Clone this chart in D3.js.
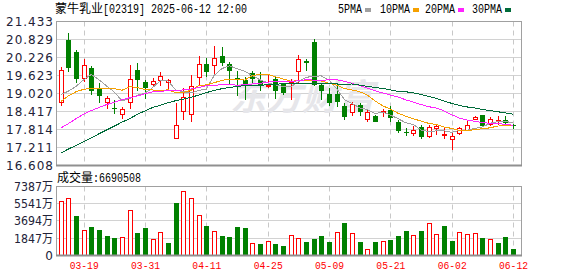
<!DOCTYPE html>
<html>
<head>
<meta charset="utf-8">
<script src="https://cdn.jsdelivr.net/npm/d3@7"></script>
<style>
  body { margin: 0; background: #fff; }
  svg { display: block; }
</style>
</head>
<body>
<div id="chart"></div>
<script>
// Trading days shown (HK market, 2025)
const dates = ["03-14","03-17","03-18","03-19","03-20","03-21","03-24","03-25","03-26","03-27","03-28","03-31",
  "04-01","04-02","04-03","04-07","04-08","04-09","04-10","04-11","04-14","04-15","04-16","04-17",
  "04-22","04-23","04-24","04-25","04-28","04-29","04-30","05-02","05-06","05-07","05-08","05-09",
  "05-12","05-13","05-14","05-15","05-16","05-19","05-20","05-21","05-22","05-23","05-26","05-27",
  "05-28","05-29","05-30","06-02","06-03","06-04","06-05","06-06","06-09","06-10","06-11","06-12"];

const open  = [18.73,20.82,20.42,19.54,19.87,19.22,18.72,18.54,18.33,18.73,19.81,19.39,
  19.33,19.46,19.39,17.53,18.42,18.33,19.59,20.02,19.99,20.28,20.00,19.54,
  19.48,19.70,19.48,19.27,19.50,19.33,19.39,19.76,20.12,20.73,19.29,19.01,
  19.01,18.61,18.40,18.63,18.18,18.27,18.42,18.47,18.08,17.74,17.69,17.89,
  17.58,17.88,17.655,17.49,17.69,17.80,18.18,18.30,18.01,18.105,18.12,17.96];
const high  = [19.90,21.04,20.48,20.17,19.93,19.37,18.92,18.81,18.56,19.98,20.03,19.48,
  19.54,19.73,19.50,18.70,19.20,19.64,20.29,20.21,20.60,20.57,20.08,19.79,
  19.59,19.78,19.73,19.68,19.57,19.37,19.50,20.32,20.18,20.84,19.37,19.20,
  19.35,18.70,18.72,18.70,18.47,18.31,18.50,18.59,18.14,17.86,17.92,17.96,
  17.96,17.97,17.88,17.69,17.89,18.13,18.27,18.31,18.23,18.25,18.25,18.01];
const low   = [18.59,19.74,19.37,19.40,18.98,18.70,18.50,18.33,18.16,18.50,19.12,18.83,
  19.26,19.26,19.09,17.53,18.12,18.08,19.30,19.59,19.65,19.93,19.35,18.94,
  18.81,19.35,19.11,19.20,18.84,18.98,18.81,19.37,19.79,19.26,18.81,18.61,
  18.56,18.14,18.25,18.25,18.08,18.05,18.23,18.08,17.69,17.58,17.58,17.49,
  17.53,17.64,17.50,17.13,17.64,17.75,18.13,17.89,17.94,17.96,17.94,17.83];
const close = [19.81,19.89,19.52,19.97,19.09,18.92,18.865,18.485,18.49,19.50,19.46,19.22,
  19.43,19.61,19.48,17.96,18.89,19.26,20.00,19.74,20.21,20.03,19.79,19.50,
  19.30,19.50,19.30,19.31,19.12,19.05,19.42,20.17,20.04,19.31,19.12,18.71,
  18.72,18.22,18.68,18.39,18.40,18.08,18.45,18.19,17.77,17.69,17.80,17.56,
  17.89,17.915,17.665,17.58,17.85,17.96,18.22,17.915,18.16,18.14,18.03,17.92];

// Volume in 万 (10k shares)
const volume = [5888,6177,4282,2783,2998,2783,2141,1927,2034,4818,2462,2891,
  1713,2569,1285,5674,6852,6209,4389,3105,2676,2141,2034,2998,
  2891,1285,1178,1499,1178,964,2248,1820,1392,1713,2141,1392,
  2569,3426,2462,1392,749,1392,1499,1606,2141,2676,2248,2676,
  3426,2355,3105,1499,2569,2355,2462,1820,1713,1285,2034,669];
const lastVolume = 6690508;

// Moving averages
const ma5  = [18.98,19.10,19.26,19.48,19.66,19.48,19.27,19.07,18.77,18.85,18.96,19.03,
  19.22,19.45,19.44,19.14,19.08,19.04,19.12,19.17,19.62,19.85,19.95,19.85,
  19.77,19.62,19.48,19.38,19.31,19.26,19.24,19.42,19.56,19.60,19.61,19.47,
  19.18,18.82,18.69,18.54,18.48,18.35,18.40,18.30,18.18,18.04,17.98,17.80,
  17.74,17.77,17.77,17.72,17.78,17.79,17.85,17.90,18.02,18.08,18.09,18.03];
const ma10 = [18.75,18.94,19.08,19.16,19.20,19.20,19.20,19.18,19.13,19.25,19.22,19.15,
  19.14,19.11,19.15,19.05,19.05,19.13,19.28,19.31,19.38,19.46,19.50,19.49,
  19.47,19.62,19.66,19.67,19.58,19.51,19.43,19.45,19.47,19.45,19.44,19.36,
  19.30,19.19,19.14,19.08,18.97,18.77,18.61,18.50,18.36,18.26,18.17,18.10,
  18.02,17.98,17.90,17.85,17.79,17.77,17.81,17.84,17.87,17.93,17.94,17.94];
const ma20 = [17.86,18.01,18.18,18.33,18.45,18.55,18.65,18.73,18.81,18.88,18.94,19.01,
  19.08,19.10,19.11,19.12,19.14,19.17,19.22,19.28,19.30,19.31,19.32,19.30,
  19.31,19.34,19.36,19.40,19.43,19.41,19.41,19.45,19.48,19.47,19.45,19.49,
  19.48,19.43,19.36,19.29,19.20,19.11,19.04,18.97,18.90,18.81,18.73,18.65,
  18.58,18.53,18.44,18.31,18.20,18.13,18.09,18.05,18.02,18.02,17.98,17.96];
const ma30 = [17.02,17.16,17.28,17.41,17.54,17.67,17.80,17.93,18.06,18.18,18.32,18.44,
  18.55,18.63,18.71,18.78,18.83,18.89,18.97,19.05,19.12,19.18,19.22,19.26,
  19.28,19.29,19.30,19.31,19.32,19.36,19.34,19.35,19.37,19.35,19.35,19.34,
  19.34,19.33,19.34,19.30,19.26,19.22,19.19,19.14,19.09,19.08,19.04,18.99,
  18.92,18.86,18.77,18.69,18.62,18.57,18.54,18.48,18.45,18.41,18.37,18.33];

const priceTicks = [21.433,20.829,20.226,19.623,19.020,18.417,17.814,17.211,16.608];
const volTicks = [0,1847,3694,5541,7387];
const tickDates = ["03-19","03-31","04-11","04-25","05-09","05-21","06-02","06-12"];

const maNames = ["5PMA","10PMA","20PMA","30PMA"];
const maColors = ["#a0a0a0","#f5a000","#ff22ff","#006b3a"];
const UP = "#ff0000", DOWN = "#008000";

const W = 578, H = 276;
const left = 56, right = 522;
const pTop = 21.5, pBot = 165.5, vTop = 186.5, vBot = 255.5;

const svg = d3.select("#chart").append("svg")
    .attr("width", W).attr("height", H)
    .style("background", "#fff");

const x = d3.scalePoint().domain(dates).range([60.7, 513]);
const y = d3.scaleLinear().domain([16.608, 21.433]).range([pBot, pTop]);
const yv = d3.scaleLinear().domain([0, 7387]).range([vBot, vTop]);
const px = d => Math.round(x(d));
const crisp = v => Math.round(v - 0.5) + 0.5;

// Horizontal grid
svg.append("g").selectAll("line").data(priceTicks.slice(1, -1)).join("line")
    .attr("x1", left).attr("x2", right)
    .attr("y1", d => crisp(y(d))).attr("y2", d => crisp(y(d)))
    .attr("stroke", "#d2d2d2");
svg.append("g").selectAll("line").data(volTicks.slice(1, -1)).join("line")
    .attr("x1", left).attr("x2", right)
    .attr("y1", d => crisp(yv(d))).attr("y2", d => crisp(yv(d)))
    .attr("stroke", "#d2d2d2");

// Vertical dashed grid
[[pTop, pBot], [vTop, vBot]].forEach(([a, b]) => {
    svg.append("g").selectAll("line").data(tickDates).join("line")
        .attr("x1", d => px(d) + 0.5).attr("x2", d => px(d) + 0.5)
        .attr("y1", a).attr("y2", b)
        .attr("stroke", "#c8c8c8")
        .attr("stroke-dasharray", "5,4");
});

// Watermark
svg.append("text")
    .attr("x", 230).attr("y", 110)
    .attr("font-family", "'Noto Sans CJK SC'")
    .attr("font-size", 36).attr("font-weight", "bold").attr("font-style", "italic")
    .attr("fill", "#e6e6ea")
    .text("东方财富");

// Candles
const bars = dates.map((d, i) => ({ d, o: open[i], h: high[i], l: low[i], c: close[i], v: volume[i],
    up: close[i] >= open[i], vUp: i === 0 || close[i] >= close[i - 1] }));

const candle = svg.append("g").selectAll("g").data(bars).join("g");
candle.append("line")
    .attr("x1", d => px(d.d) + 0.5).attr("x2", d => px(d.d) + 0.5)
    .attr("y1", d => Math.round(y(d.h))).attr("y2", d => Math.round(y(d.l)))
    .attr("stroke", d => d.up ? UP : DOWN);
candle.append("rect")
    .attr("x", d => d.up ? px(d.d) - 1.5 : px(d.d) - 2)
    .attr("width", d => d.up ? 4 : 5)
    .attr("y", d => Math.round(y(Math.max(d.o, d.c))) + (d.up ? 0.5 : 0))
    .attr("height", d => Math.max(1, Math.round(y(Math.min(d.o, d.c))) - Math.round(y(Math.max(d.o, d.c)))))
    .attr("fill", d => d.up ? "#fff" : DOWN)
    .attr("stroke", d => d.up ? UP : "none");

// Moving average lines
[ma5, ma10, ma20, ma30].forEach((ma, k) => {
    const line = d3.line().x((d, i) => x(dates[i])).y(d => y(d));
    svg.append("path")
        .datum(ma)
        .attr("fill", "none")
        .attr("stroke", maColors[k])
        .attr("stroke-width", 1)
        .attr("shape-rendering", "crispEdges")
        .attr("d", line);
});

// Volume bars
svg.append("g").selectAll("rect").data(bars).join("rect")
    .attr("x", d => d.vUp ? px(d.d) - 1.5 : px(d.d) - 2)
    .attr("width", d => d.vUp ? 4 : 5)
    .attr("y", d => Math.round(yv(d.v)) + (d.vUp ? 0.5 : 0))
    .attr("height", d => Math.round(vBot) - Math.round(yv(d.v)) - (d.vUp ? 1 : 0))
    .attr("fill", d => d.vUp ? "#fff" : DOWN)
    .attr("stroke", d => d.vUp ? UP : "none");

// Frames
svg.append("rect").attr("x", left + 0.5).attr("y", pTop).attr("width", right - left - 1).attr("height", pBot - pTop)
    .attr("fill", "none").attr("stroke", "#a0a0a0");
svg.append("rect").attr("x", left + 0.5).attr("y", vTop).attr("width", right - left - 1).attr("height", vBot - vTop)
    .attr("fill", "none").attr("stroke", "#a0a0a0");
[pBot, vBot].forEach(v => svg.append("line")
    .attr("x1", left).attr("x2", right).attr("y1", v).attr("y2", v)
    .attr("stroke", "#909090").attr("stroke-width", 2));

// Y axes
const yAxis = svg.append("g")
    .attr("transform", `translate(${left},0)`)
    .call(d3.axisLeft(y).tickValues(priceTicks).tickSize(0).tickPadding(3).tickFormat(d3.format(".3f")));
const vAxis = svg.append("g")
    .attr("transform", `translate(${left},0)`)
    .call(d3.axisLeft(yv).tickValues(volTicks).tickSize(0).tickPadding(3)
        .tickFormat(d => d === 0 ? "0" : d + "万"));
[yAxis, vAxis].forEach(g => {
    g.select(".domain").remove();
    g.selectAll("text")
        .attr("fill", "#222238")
        .attr("font-family", "'DejaVu Sans', 'Noto Sans CJK SC'")
        .attr("font-size", 12);
});
yAxis.selectAll("text").attr("textLength", 47).attr("lengthAdjust", "spacing");
vAxis.selectAll("text").filter(d => d !== 0).attr("textLength", 39).attr("lengthAdjust", "spacingAndGlyphs");

// X axis
const xAxis = svg.append("g")
    .attr("transform", `translate(0,${vBot})`)
    .call(d3.axisBottom(x).tickValues(tickDates).tickSize(0).tickPadding(6));
xAxis.select(".domain").remove();
xAxis.selectAll("text")
    .attr("fill", "#ff0000")
    .attr("font-family", "'Liberation Mono'")
    .attr("font-size", 11)
    .attr("textLength", 29).attr("lengthAdjust", "spacingAndGlyphs");

// Title
const title = svg.append("text").attr("x", 55).attr("y", 13).attr("fill", "#000");
title.append("tspan").attr("font-family", "'Noto Sans CJK SC'").attr("font-size", 12).text("蒙牛乳业");
title.append("tspan").attr("font-family", "'Liberation Mono'").attr("font-size", 13)
    .attr("textLength", 144).attr("lengthAdjust", "spacingAndGlyphs")
    .text("[02319] 2025-06-12 12:00");

// Legend
const legendX = [338, 380, 425, 472];
maNames.forEach((name, k) => {
    svg.append("text")
        .attr("x", legendX[k]).attr("y", 13)
        .attr("font-family", "'Liberation Mono'").attr("font-size", 13)
        .attr("textLength", name.length * 6).attr("lengthAdjust", "spacingAndGlyphs")
        .attr("fill", "#000")
        .text(name);
    svg.append("rect")
        .attr("x", legendX[k] + name.length * 6 + 3).attr("y", 8)
        .attr("width", 6).attr("height", 4)
        .attr("fill", maColors[k]);
});

// Volume caption
const cap = svg.append("text").attr("x", 57).attr("y", 182).attr("fill", "#000");
cap.append("tspan").attr("font-family", "'Noto Sans CJK SC'").attr("font-size", 12).text("成交量");
cap.append("tspan").attr("font-family", "'Liberation Mono'").attr("font-size", 13)
    .attr("textLength", 48).attr("lengthAdjust", "spacingAndGlyphs")
    .text(":" + lastVolume);
</script>
</body>
</html>
